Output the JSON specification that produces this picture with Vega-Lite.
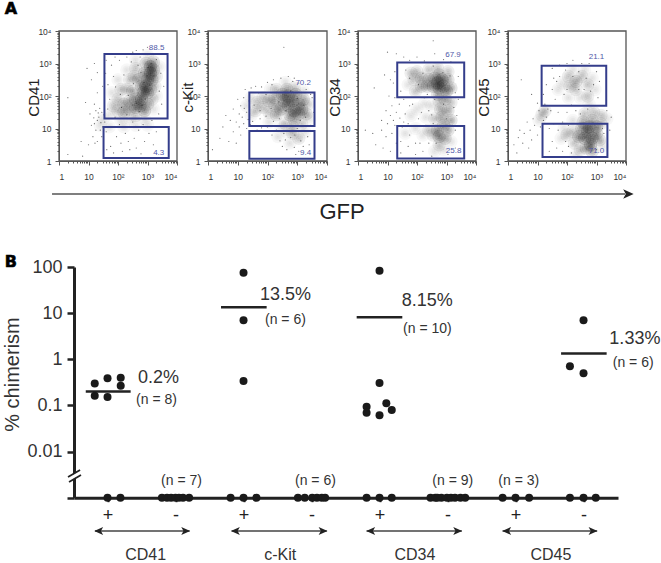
{"$schema":"https://vega.github.io/schema/vega-lite/v6.json","width":661,"height":563,"autosize":"none","padding":0,"background":"white","config":{"view":{"stroke":null},"font":"Liberation Sans","axis":{"grid":false,"labelFont":"Liberation Sans","titleFont":"Liberation Sans"}},"resolve":{"scale":{"x":"independent","y":"independent"},"axis":{"x":"independent","y":"independent"}},
"datasets":{
"density1":[{"x":3.1,"y":2.9,"d":5},{"x":3.1,"y":2.7,"d":5},{"x":3.0,"y":2.5,"d":5},{"x":2.95,"y":2.3,"d":5},{"x":2.85,"y":2.1,"d":5},{"x":2.8,"y":1.9,"d":5},{"x":2.75,"y":1.7,"d":5},{"x":2.9,"y":2.7,"d":4},{"x":3.2,"y":2.8,"d":4},{"x":3.15,"y":2.5,"d":4},{"x":2.8,"y":2.3,"d":4},{"x":3.0,"y":2.1,"d":4},{"x":2.6,"y":1.9,"d":4},{"x":2.6,"y":1.65,"d":4},{"x":2.9,"y":1.55,"d":4},{"x":3.2,"y":3.05,"d":3},{"x":2.95,"y":3.0,"d":3},{"x":2.7,"y":2.5,"d":3},{"x":2.5,"y":2.15,"d":3},{"x":2.4,"y":1.85,"d":3},{"x":2.4,"y":1.6,"d":3},{"x":2.2,"y":1.75,"d":3},{"x":2.2,"y":1.5,"d":3},{"x":3.0,"y":1.75,"d":3},{"x":3.1,"y":2.2,"d":3},{"x":2.55,"y":2.6,"d":2},{"x":2.3,"y":2.2,"d":2},{"x":2.0,"y":1.9,"d":2},{"x":2.0,"y":1.55,"d":2},{"x":1.85,"y":1.7,"d":2},{"x":2.6,"y":1.4,"d":2},{"x":3.25,"y":2.3,"d":2},{"x":3.15,"y":1.9,"d":2},{"x":2.6,"y":2.85,"d":2},{"x":2.4,"y":2.5,"d":2},{"x":2.1,"y":2.2,"d":2},{"x":3.3,"y":2.6,"d":2},{"x":1.8,"y":2.1,"d":1},{"x":1.75,"y":1.45,"d":1},{"x":2.0,"y":2.5,"d":1},{"x":2.3,"y":2.8,"d":1},{"x":2.6,"y":3.1,"d":1},{"x":3.0,"y":3.25,"d":1},{"x":3.4,"y":2.9,"d":1},{"x":3.3,"y":2.0,"d":1},{"x":3.2,"y":1.6,"d":1},{"x":2.9,"y":1.3,"d":1},{"x":2.4,"y":1.3,"d":1},{"x":2.1,"y":1.25,"d":1},{"x":1.5,"y":1.3,"d":1},{"x":1.4,"y":1.1,"d":1},{"x":1.7,"y":1.05,"d":1},{"x":2.2,"y":1.05,"d":1},{"x":2.6,"y":1.1,"d":1},{"x":3.0,"y":1.1,"d":1}],
"events1":[{"x":0.3,"y":0.2},{"x":0.8,"y":0.15},{"x":0.75,"y":0.6},{"x":1.0,"y":0.5},{"x":1.15,"y":0.75},{"x":1.3,"y":0.6},{"x":1.25,"y":0.95},{"x":1.1,"y":1.1},{"x":1.3,"y":1.25},{"x":1.05,"y":1.45},{"x":0.9,"y":1.8},{"x":1.2,"y":1.75},{"x":0.3,"y":1.95},{"x":1.3,"y":2.1},{"x":1.1,"y":2.5},{"x":0.95,"y":2.85},{"x":1.2,"y":3.0},{"x":1.6,"y":3.1},{"x":1.25,"y":1.55},{"x":1.45,"y":1.5},{"x":1.4,"y":0.95},{"x":1.45,"y":0.75},{"x":1.55,"y":1.2},{"x":1.6,"y":0.9},{"x":1.35,"y":1.35},{"x":1.2,"y":1.15},{"x":1.38,"y":1.62},{"x":1.48,"y":2.3},{"x":1.3,"y":2.72},{"x":1.75,"y":0.45},{"x":1.95,"y":0.75},{"x":2.1,"y":0.55},{"x":2.25,"y":0.85},{"x":2.4,"y":0.35},{"x":2.55,"y":0.7},{"x":2.7,"y":0.95},{"x":2.9,"y":0.6},{"x":3.05,"y":0.85},{"x":1.65,"y":1.6},{"x":1.72,"y":1.9},{"x":1.66,"y":2.35},{"x":1.85,"y":2.6},{"x":1.78,"y":2.95},{"x":2.05,"y":3.1},{"x":2.2,"y":2.65},{"x":2.15,"y":3.3},{"x":2.45,"y":3.05},{"x":2.5,"y":3.35},{"x":2.75,"y":3.2},{"x":2.85,"y":3.42},{"x":3.15,"y":3.3},{"x":3.3,"y":3.12},{"x":3.45,"y":2.7},{"x":3.55,"y":2.3},{"x":3.4,"y":2.15},{"x":3.48,"y":1.75},{"x":3.38,"y":1.45},{"x":3.15,"y":1.25},{"x":2.85,"y":1.12},{"x":2.5,"y":1.2},{"x":2.05,"y":1.12},{"x":1.9,"y":1.35},{"x":2.3,"y":1.42},{"x":2.12,"y":1.65},{"x":2.48,"y":1.72},{"x":2.72,"y":1.52},{"x":2.92,"y":1.9},{"x":2.68,"y":2.1},{"x":2.35,"y":2.02},{"x":2.08,"y":2.05},{"x":1.92,"y":2.28},{"x":2.52,"y":2.38},{"x":2.78,"y":2.72},{"x":3.02,"y":2.88},{"x":3.22,"y":2.62},{"x":2.88,"y":2.42},{"x":3.08,"y":2.34},{"x":2.82,"y":1.72},{"x":2.62,"y":1.78},{"x":3.12,"y":3.0},{"x":2.98,"y":2.62},{"x":2.68,"y":2.95},{"x":1.42,"y":1.18},{"x":1.52,"y":1.42},{"x":1.18,"y":1.33},{"x":1.33,"y":1.48},{"x":1.48,"y":1.05},{"x":1.22,"y":0.55},{"x":1.62,"y":0.35},{"x":1.85,"y":0.25},{"x":2.15,"y":0.3},{"x":2.35,"y":0.6},{"x":2.62,"y":0.4},{"x":2.78,"y":0.22},{"x":3.2,"y":0.5},{"x":3.3,"y":0.9},{"x":1.58,"y":2.7},{"x":1.9,"y":3.2},{"x":2.3,"y":3.2},{"x":2.62,"y":3.4},{"x":3.0,"y":3.5}],
"density2":[{"x":2.7,"y":2.0,"d":5},{"x":2.85,"y":1.85,"d":5},{"x":2.7,"y":1.7,"d":5},{"x":2.9,"y":1.55,"d":5},{"x":2.55,"y":1.85,"d":5},{"x":2.95,"y":2.05,"d":4},{"x":3.05,"y":1.75,"d":4},{"x":3.05,"y":1.45,"d":4},{"x":2.75,"y":1.42,"d":4},{"x":2.5,"y":2.05,"d":4},{"x":2.45,"y":1.6,"d":4},{"x":3.15,"y":1.6,"d":4},{"x":2.25,"y":1.95,"d":3},{"x":2.25,"y":1.7,"d":3},{"x":2.3,"y":1.42,"d":3},{"x":2.05,"y":1.85,"d":3},{"x":2.65,"y":2.2,"d":3},{"x":3.2,"y":1.9,"d":3},{"x":3.3,"y":1.45,"d":3},{"x":2.9,"y":1.28,"d":3},{"x":1.85,"y":1.95,"d":2},{"x":1.85,"y":1.65,"d":2},{"x":2.05,"y":1.5,"d":2},{"x":1.65,"y":1.8,"d":2},{"x":1.6,"y":1.55,"d":2},{"x":2.3,"y":2.2,"d":2},{"x":2.9,"y":2.25,"d":2},{"x":3.35,"y":1.75,"d":2},{"x":2.6,"y":1.15,"d":2},{"x":3.15,"y":1.15,"d":2},{"x":2.85,"y":1.05,"d":2},{"x":2.85,"y":0.85,"d":2},{"x":3.05,"y":0.7,"d":2},{"x":2.65,"y":0.9,"d":1},{"x":2.45,"y":1.05,"d":1},{"x":3.25,"y":0.9,"d":1},{"x":2.35,"y":0.75,"d":1},{"x":2.75,"y":0.55,"d":1},{"x":1.45,"y":1.95,"d":1},{"x":1.3,"y":1.7,"d":1},{"x":1.45,"y":1.4,"d":1},{"x":2.1,"y":2.2,"d":1},{"x":2.6,"y":2.42,"d":1},{"x":3.2,"y":2.15,"d":1},{"x":3.4,"y":1.3,"d":1},{"x":2.05,"y":1.2,"d":1}],
"events2":[{"x":0.15,"y":0.35},{"x":0.4,"y":0.7},{"x":0.5,"y":1.05},{"x":0.7,"y":0.6},{"x":0.85,"y":0.9},{"x":0.95,"y":0.55},{"x":1.1,"y":0.8},{"x":0.6,"y":1.4},{"x":0.75,"y":1.25},{"x":0.95,"y":1.2},{"x":1.05,"y":1.45},{"x":1.2,"y":1.15},{"x":1.3,"y":1.0},{"x":0.85,"y":1.6},{"x":1.1,"y":1.7},{"x":1.2,"y":1.95},{"x":1.3,"y":1.5},{"x":1.0,"y":1.9},{"x":1.25,"y":2.2},{"x":1.45,"y":2.25},{"x":1.6,"y":2.3},{"x":1.8,"y":2.28},{"x":2.0,"y":2.42},{"x":2.2,"y":2.5},{"x":2.45,"y":2.55},{"x":2.7,"y":2.6},{"x":2.85,"y":2.45},{"x":2.55,"y":3.5},{"x":3.05,"y":2.4},{"x":3.3,"y":2.2},{"x":3.5,"y":1.95},{"x":3.55,"y":1.5},{"x":3.45,"y":1.1},{"x":3.35,"y":0.75},{"x":3.2,"y":0.45},{"x":3.05,"y":0.3},{"x":2.9,"y":0.42},{"x":2.6,"y":0.65},{"x":2.5,"y":0.45},{"x":2.3,"y":0.95},{"x":2.15,"y":0.8},{"x":2.0,"y":1.05},{"x":1.8,"y":1.02},{"x":1.65,"y":0.95},{"x":1.5,"y":1.22},{"x":1.75,"y":1.3},{"x":1.95,"y":1.38},{"x":2.2,"y":1.22},{"x":2.4,"y":1.3},{"x":2.12,"y":1.62},{"x":1.75,"y":1.55},{"x":1.55,"y":1.72},{"x":1.95,"y":2.05},{"x":2.38,"y":1.82},{"x":2.62,"y":1.55},{"x":3.0,"y":1.92},{"x":3.22,"y":1.72},{"x":2.78,"y":2.15},{"x":3.1,"y":1.25},{"x":3.28,"y":1.35},{"x":2.72,"y":1.1},{"x":3.0,"y":1.0},{"x":2.92,"y":0.8},{"x":2.78,"y":0.72},{"x":1.15,"y":1.35},{"x":1.38,"y":1.85},{"x":1.42,"y":1.12},{"x":1.22,"y":1.62},{"x":1.35,"y":1.28},{"x":1.05,"y":1.05},{"x":2.55,"y":0.85},{"x":2.42,"y":0.62},{"x":3.12,"y":0.62},{"x":3.4,"y":0.5},{"x":2.65,"y":0.35},{"x":2.95,"y":0.2},{"x":1.7,"y":2.1},{"x":2.15,"y":2.35},{"x":2.9,"y":2.55},{"x":3.45,"y":2.05}],
"density3":[{"x":2.7,"y":2.4,"d":5},{"x":2.85,"y":2.5,"d":5},{"x":2.75,"y":2.25,"d":5},{"x":2.9,"y":2.3,"d":4},{"x":2.6,"y":2.55,"d":4},{"x":2.55,"y":2.3,"d":4},{"x":3.0,"y":2.15,"d":4},{"x":2.75,"y":2.65,"d":3},{"x":2.4,"y":2.5,"d":3},{"x":2.35,"y":2.3,"d":3},{"x":2.15,"y":2.55,"d":3},{"x":2.15,"y":2.3,"d":3},{"x":3.05,"y":2.5,"d":3},{"x":1.9,"y":2.5,"d":2},{"x":1.8,"y":2.7,"d":2},{"x":2.0,"y":2.75,"d":2},{"x":1.7,"y":2.35,"d":1},{"x":2.4,"y":2.8,"d":2},{"x":2.7,"y":2.85,"d":2},{"x":3.05,"y":2.75,"d":2},{"x":1.95,"y":2.15,"d":2},{"x":3.15,"y":2.25,"d":3},{"x":2.7,"y":2.05,"d":3},{"x":2.75,"y":1.85,"d":2},{"x":2.95,"y":1.9,"d":3},{"x":3.15,"y":1.8,"d":2},{"x":2.8,"y":1.6,"d":3},{"x":3.05,"y":1.55,"d":3},{"x":3.15,"y":1.25,"d":3},{"x":2.85,"y":1.35,"d":3},{"x":2.5,"y":1.7,"d":1},{"x":2.25,"y":1.75,"d":1},{"x":2.0,"y":1.6,"d":1},{"x":1.8,"y":1.4,"d":1},{"x":2.3,"y":1.35,"d":1},{"x":2.6,"y":1.3,"d":2},{"x":2.7,"y":0.95,"d":4},{"x":2.75,"y":0.75,"d":4},{"x":2.9,"y":1.1,"d":3},{"x":3.05,"y":0.95,"d":3},{"x":2.95,"y":0.7,"d":3},{"x":2.55,"y":0.8,"d":2},{"x":2.4,"y":0.95,"d":2},{"x":2.2,"y":0.8,"d":1},{"x":2.75,"y":0.5,"d":2},{"x":2.6,"y":0.3,"d":1},{"x":2.9,"y":0.35,"d":1},{"x":3.15,"y":0.6,"d":1},{"x":1.95,"y":1.0,"d":1},{"x":1.6,"y":0.85,"d":1}],
"events3":[{"x":0.25,"y":0.95},{"x":0.5,"y":0.85},{"x":0.6,"y":0.5},{"x":0.8,"y":0.95},{"x":0.85,"y":0.4},{"x":0.95,"y":0.75},{"x":1.0,"y":1.15},{"x":1.1,"y":0.3},{"x":1.15,"y":0.85},{"x":0.8,"y":1.25},{"x":1.1,"y":1.4},{"x":1.25,"y":1.1},{"x":1.3,"y":0.55},{"x":1.3,"y":1.5},{"x":1.15,"y":1.7},{"x":0.95,"y":1.55},{"x":1.4,"y":1.75},{"x":1.25,"y":1.95},{"x":1.05,"y":2.0},{"x":0.55,"y":2.25},{"x":0.9,"y":2.65},{"x":1.1,"y":2.5},{"x":1.2,"y":2.4},{"x":1.25,"y":2.75},{"x":1.45,"y":2.15},{"x":1.0,"y":3.35},{"x":1.3,"y":3.3},{"x":1.55,"y":3.2},{"x":1.75,"y":3.1},{"x":2.0,"y":3.2},{"x":2.25,"y":3.08},{"x":2.6,"y":3.3},{"x":2.55,"y":3.7},{"x":2.9,"y":3.12},{"x":3.15,"y":3.05},{"x":3.4,"y":2.6},{"x":3.4,"y":1.9},{"x":3.35,"y":1.4},{"x":3.3,"y":0.95},{"x":3.3,"y":0.4},{"x":3.05,"y":0.2},{"x":2.5,"y":0.15},{"x":2.2,"y":0.3},{"x":1.95,"y":0.2},{"x":1.7,"y":0.45},{"x":1.45,"y":0.25},{"x":1.5,"y":1.05},{"x":1.75,"y":1.7},{"x":1.6,"y":1.45},{"x":1.55,"y":1.9},{"x":2.05,"y":1.3},{"x":2.1,"y":0.55},{"x":2.4,"y":0.55},{"x":2.3,"y":1.1},{"x":2.15,"y":1.5},{"x":2.4,"y":1.55},{"x":2.55,"y":1.15},{"x":2.6,"y":1.9},{"x":2.35,"y":2.05},{"x":2.05,"y":2.35},{"x":1.75,"y":2.55},{"x":1.62,"y":2.8},{"x":2.2,"y":2.7},{"x":2.55,"y":2.92},{"x":2.88,"y":2.72},{"x":3.12,"y":2.62},{"x":3.0,"y":1.3},{"x":2.9,"y":1.75},{"x":1.2,"y":1.25},{"x":1.42,"y":1.32},{"x":1.55,"y":1.2},{"x":1.7,"y":1.15},{"x":1.85,"y":1.75},{"x":1.45,"y":0.6},{"x":1.75,"y":0.8},{"x":1.95,"y":0.55},{"x":2.25,"y":1.95},{"x":2.5,"y":1.42},{"x":2.65,"y":0.55},{"x":3.2,"y":1.1},{"x":3.25,"y":1.65},{"x":3.3,"y":2.1}],
"density4":[{"x":2.7,"y":0.9,"d":5},{"x":2.85,"y":0.7,"d":5},{"x":2.6,"y":0.7,"d":5},{"x":2.75,"y":1.05,"d":5},{"x":2.8,"y":0.5,"d":5},{"x":3.0,"y":0.85,"d":4},{"x":3.0,"y":1.05,"d":4},{"x":2.5,"y":1.0,"d":4},{"x":2.4,"y":0.75,"d":4},{"x":3.1,"y":0.65,"d":3},{"x":2.55,"y":1.2,"d":3},{"x":2.85,"y":1.25,"d":3},{"x":2.65,"y":0.4,"d":3},{"x":2.85,"y":0.3,"d":3},{"x":2.2,"y":0.9,"d":2},{"x":2.25,"y":0.55,"d":2},{"x":2.0,"y":0.8,"d":2},{"x":2.45,"y":0.35,"d":2},{"x":3.15,"y":1.15,"d":2},{"x":3.2,"y":0.45,"d":1},{"x":1.8,"y":0.7,"d":1},{"x":1.9,"y":1.0,"d":1},{"x":2.2,"y":1.25,"d":1},{"x":2.6,"y":1.45,"d":2},{"x":2.9,"y":1.5,"d":2},{"x":3.15,"y":1.4,"d":2},{"x":3.35,"y":1.3,"d":1},{"x":2.3,"y":0.2,"d":1},{"x":2.75,"y":1.75,"d":1},{"x":2.7,"y":2.0,"d":2},{"x":2.3,"y":2.45,"d":3},{"x":2.1,"y":2.3,"d":2},{"x":2.5,"y":2.6,"d":2},{"x":2.3,"y":2.2,"d":2},{"x":2.05,"y":2.6,"d":2},{"x":2.7,"y":2.35,"d":2},{"x":1.85,"y":2.4,"d":1},{"x":1.7,"y":2.2,"d":1},{"x":2.2,"y":2.8,"d":1},{"x":2.6,"y":2.8,"d":1},{"x":2.85,"y":2.55,"d":1},{"x":2.95,"y":2.2,"d":1},{"x":2.45,"y":1.95,"d":1},{"x":2.05,"y":1.95,"d":1},{"x":1.15,"y":1.42,"d":2},{"x":1.25,"y":1.55,"d":2},{"x":1.05,"y":1.25,"d":1}],
"events4":[{"x":0.2,"y":0.5},{"x":0.3,"y":0.25},{"x":0.35,"y":0.72},{"x":0.5,"y":0.55},{"x":0.55,"y":0.85},{"x":0.7,"y":0.4},{"x":0.4,"y":0.95},{"x":0.75,"y":0.95},{"x":0.8,"y":0.65},{"x":0.9,"y":1.1},{"x":0.65,"y":1.2},{"x":0.85,"y":1.3},{"x":1.0,"y":0.8},{"x":1.1,"y":1.05},{"x":1.05,"y":1.55},{"x":1.2,"y":1.25},{"x":1.3,"y":1.35},{"x":1.0,"y":1.78},{"x":0.8,"y":2.05},{"x":1.25,"y":1.75},{"x":1.35,"y":1.6},{"x":1.2,"y":2.05},{"x":0.45,"y":2.5},{"x":1.3,"y":2.35},{"x":1.5,"y":2.85},{"x":1.75,"y":2.95},{"x":2.0,"y":3.0},{"x":2.2,"y":3.1},{"x":2.5,"y":3.0},{"x":2.75,"y":3.0},{"x":3.0,"y":2.75},{"x":3.1,"y":2.45},{"x":3.05,"y":1.95},{"x":1.55,"y":2.55},{"x":1.6,"y":1.9},{"x":1.45,"y":1.55},{"x":1.7,"y":1.5},{"x":2.0,"y":1.5},{"x":2.3,"y":1.55},{"x":3.35,"y":1.55},{"x":3.5,"y":1.35},{"x":3.45,"y":0.95},{"x":3.25,"y":0.85},{"x":1.4,"y":1.0},{"x":1.5,"y":0.6},{"x":1.65,"y":0.4},{"x":1.85,"y":0.3},{"x":2.05,"y":0.45},{"x":1.7,"y":0.95},{"x":1.4,"y":0.3},{"x":1.9,"y":2.05},{"x":1.75,"y":2.6},{"x":2.0,"y":2.2},{"x":2.2,"y":2.6},{"x":2.4,"y":2.2},{"x":2.58,"y":2.2},{"x":2.8,"y":2.15},{"x":2.4,"y":2.75},{"x":2.65,"y":2.55},{"x":2.9,"y":2.35},{"x":1.55,"y":1.15},{"x":1.85,"y":1.2},{"x":2.05,"y":1.1},{"x":1.95,"y":0.6},{"x":2.15,"y":0.25},{"x":3.0,"y":0.35},{"x":3.2,"y":1.0},{"x":2.45,"y":1.45},{"x":2.15,"y":1.72},{"x":2.7,"y":1.6},{"x":1.5,"y":2.2},{"x":1.65,"y":2.45},{"x":1.95,"y":2.8}]
},
"layer":[
{"encoding":{"x":{"field":"x","type":"quantitative","scale":{"domain":[0,4],"range":[59,177],"nice":false,"zero":false},"axis":{"orient":"bottom","offset":-402,"title":null,"values":[0,0.3,0.48,0.6,0.7,0.78,0.85,0.9,0.95,1,1.3,1.48,1.6,1.7,1.78,1.85,1.9,1.95,2,2.3,2.48,2.6,2.7,2.78,2.85,2.9,2.95,3,3.3,3.48,3.6,3.7,3.78,3.85,3.9,3.95,4],"labelExpr":"datum.value==0?'1':datum.value==1?'10':datum.value==2?'10²':datum.value==3?'10³':datum.value==4?'10⁴':''","labelOverlap":false,"labelFontSize":8.5,"labelColor":"#333","labelPadding":7,"domainColor":"#555","tickColor":"#555","tickSize":{"condition":{"test":"datum.value%1==0","value":4},"value":2}}},"y":{"field":"y","type":"quantitative","scale":{"domain":[0,4],"range":[161,31],"nice":false,"zero":false},"axis":{"orient":"left","offset":-59,"title":"CD41","titleX":-18,"titleY":97,"titleFontSize":15,"titleFontWeight":"normal","titleColor":"#222","values":[0,0.3,0.48,0.6,0.7,0.78,0.85,0.9,0.95,1,1.3,1.48,1.6,1.7,1.78,1.85,1.9,1.95,2,2.3,2.48,2.6,2.7,2.78,2.85,2.9,2.95,3,3.3,3.48,3.6,3.7,3.78,3.85,3.9,3.95,4],"labelExpr":"datum.value==0?'1':datum.value==1?'10':datum.value==2?'10²':datum.value==3?'10³':datum.value==4?'10⁴':''","labelOverlap":false,"labelFontSize":8.5,"labelColor":"#333","labelPadding":4,"domainColor":"#555","tickColor":"#555","tickSize":{"condition":{"test":"datum.value%1==0","value":4},"value":2}}}},
"layer":[
{"data":{"name":"density1"},"mark":{"type":"circle","size":180,"color":"#000"},"encoding":{"opacity":{"field":"d","type":"quantitative","scale":{"domain":[1,5],"range":[0.03,0.17]},"legend":null}}},
{"data":{"name":"density1"},"mark":{"type":"circle","size":80,"color":"#000"},"encoding":{"opacity":{"field":"d","type":"quantitative","scale":{"domain":[1,5],"range":[0.04,0.22]},"legend":null}}},
{"data":{"name":"density1"},"mark":{"type":"circle","size":30,"color":"#000"},"encoding":{"opacity":{"field":"d","type":"quantitative","scale":{"domain":[1,5],"range":[0.04,0.28]},"legend":null}}},
{"data":{"name":"density1"},"mark":{"type":"circle","size":3,"color":"#000"},"encoding":{"opacity":{"field":"d","type":"quantitative","scale":{"domain":[1,5],"range":[0.3,0.9]},"legend":null}}},
{"data":{"name":"events1"},"mark":{"type":"circle","size":1.5,"color":"#111","opacity":0.6}},
{"data":{"values":[{"x":0,"x2":4,"y":0,"y2":4}]},"mark":{"type":"rect","fill":null,"stroke":"#555","strokeWidth":1.3},"encoding":{"x2":{"field":"x2"},"y2":{"field":"y2"}}},
{"data":{"values":[{"x":1.54,"x2":3.68,"y":1.31,"y2":3.29},{"x":1.51,"x2":3.72,"y":0.09,"y2":1.05}]},"mark":{"type":"rect","fill":null,"stroke":"#343d8b","strokeWidth":2},"encoding":{"x2":{"field":"x2"},"y2":{"field":"y2"}}},
{"data":{"values":[{"x":3.31,"y":3.49,"t":"88.5"},{"x":3.38,"y":0.26,"t":"4.3"}]},"mark":{"type":"text","fontSize":8,"color":"#4f58a8"},"encoding":{"text":{"field":"t"}}}
]},
{"encoding":{"x":{"field":"x","type":"quantitative","scale":{"domain":[0,4],"range":[208,327],"nice":false,"zero":false},"axis":{"orient":"bottom","offset":-402,"title":null,"values":[0,0.3,0.48,0.6,0.7,0.78,0.85,0.9,0.95,1,1.3,1.48,1.6,1.7,1.78,1.85,1.9,1.95,2,2.3,2.48,2.6,2.7,2.78,2.85,2.9,2.95,3,3.3,3.48,3.6,3.7,3.78,3.85,3.9,3.95,4],"labelExpr":"datum.value==0?'1':datum.value==1?'10':datum.value==2?'10²':datum.value==3?'10³':datum.value==4?'10⁴':''","labelOverlap":false,"labelFontSize":8.5,"labelColor":"#333","labelPadding":7,"domainColor":"#555","tickColor":"#555","tickSize":{"condition":{"test":"datum.value%1==0","value":4},"value":2}}},"y":{"field":"y","type":"quantitative","scale":{"domain":[0,4],"range":[161,31],"nice":false,"zero":false},"axis":{"orient":"left","offset":-208,"title":"c-Kit","titleX":-13,"titleY":97,"titleFontSize":15,"titleFontWeight":"normal","titleColor":"#222","values":[0,0.3,0.48,0.6,0.7,0.78,0.85,0.9,0.95,1,1.3,1.48,1.6,1.7,1.78,1.85,1.9,1.95,2,2.3,2.48,2.6,2.7,2.78,2.85,2.9,2.95,3,3.3,3.48,3.6,3.7,3.78,3.85,3.9,3.95,4],"labelExpr":"datum.value==0?'1':datum.value==1?'10':datum.value==2?'10²':datum.value==3?'10³':datum.value==4?'10⁴':''","labelOverlap":false,"labelFontSize":8.5,"labelColor":"#333","labelPadding":4,"domainColor":"#555","tickColor":"#555","tickSize":{"condition":{"test":"datum.value%1==0","value":4},"value":2}}}},
"layer":[
{"data":{"name":"density2"},"mark":{"type":"circle","size":180,"color":"#000"},"encoding":{"opacity":{"field":"d","type":"quantitative","scale":{"domain":[1,5],"range":[0.03,0.17]},"legend":null}}},
{"data":{"name":"density2"},"mark":{"type":"circle","size":80,"color":"#000"},"encoding":{"opacity":{"field":"d","type":"quantitative","scale":{"domain":[1,5],"range":[0.04,0.22]},"legend":null}}},
{"data":{"name":"density2"},"mark":{"type":"circle","size":30,"color":"#000"},"encoding":{"opacity":{"field":"d","type":"quantitative","scale":{"domain":[1,5],"range":[0.04,0.28]},"legend":null}}},
{"data":{"name":"density2"},"mark":{"type":"circle","size":3,"color":"#000"},"encoding":{"opacity":{"field":"d","type":"quantitative","scale":{"domain":[1,5],"range":[0.3,0.9]},"legend":null}}},
{"data":{"name":"events2"},"mark":{"type":"circle","size":1.5,"color":"#111","opacity":0.6}},
{"data":{"values":[{"x":0,"x2":4,"y":0,"y2":4}]},"mark":{"type":"rect","fill":null,"stroke":"#555","strokeWidth":1.3},"encoding":{"x2":{"field":"x2"},"y2":{"field":"y2"}}},
{"data":{"values":[{"x":1.39,"x2":3.58,"y":1.08,"y2":2.11},{"x":1.39,"x2":3.58,"y":0.07,"y2":0.92}]},"mark":{"type":"rect","fill":null,"stroke":"#343d8b","strokeWidth":2},"encoding":{"x2":{"field":"x2"},"y2":{"field":"y2"}}},
{"data":{"values":[{"x":3.2,"y":2.39,"t":"70.2"},{"x":3.28,"y":0.26,"t":"9.4"}]},"mark":{"type":"text","fontSize":8,"color":"#4f58a8"},"encoding":{"text":{"field":"t"}}}
]},
{"encoding":{"x":{"field":"x","type":"quantitative","scale":{"domain":[0,4],"range":[358,476],"nice":false,"zero":false},"axis":{"orient":"bottom","offset":-402,"title":null,"values":[0,0.3,0.48,0.6,0.7,0.78,0.85,0.9,0.95,1,1.3,1.48,1.6,1.7,1.78,1.85,1.9,1.95,2,2.3,2.48,2.6,2.7,2.78,2.85,2.9,2.95,3,3.3,3.48,3.6,3.7,3.78,3.85,3.9,3.95,4],"labelExpr":"datum.value==0?'1':datum.value==1?'10':datum.value==2?'10²':datum.value==3?'10³':datum.value==4?'10⁴':''","labelOverlap":false,"labelFontSize":8.5,"labelColor":"#333","labelPadding":7,"domainColor":"#555","tickColor":"#555","tickSize":{"condition":{"test":"datum.value%1==0","value":4},"value":2}}},"y":{"field":"y","type":"quantitative","scale":{"domain":[0,4],"range":[161,31],"nice":false,"zero":false},"axis":{"orient":"left","offset":-358,"title":"CD34","titleX":-16,"titleY":97,"titleFontSize":15,"titleFontWeight":"normal","titleColor":"#222","values":[0,0.3,0.48,0.6,0.7,0.78,0.85,0.9,0.95,1,1.3,1.48,1.6,1.7,1.78,1.85,1.9,1.95,2,2.3,2.48,2.6,2.7,2.78,2.85,2.9,2.95,3,3.3,3.48,3.6,3.7,3.78,3.85,3.9,3.95,4],"labelExpr":"datum.value==0?'1':datum.value==1?'10':datum.value==2?'10²':datum.value==3?'10³':datum.value==4?'10⁴':''","labelOverlap":false,"labelFontSize":8.5,"labelColor":"#333","labelPadding":4,"domainColor":"#555","tickColor":"#555","tickSize":{"condition":{"test":"datum.value%1==0","value":4},"value":2}}}},
"layer":[
{"data":{"name":"density3"},"mark":{"type":"circle","size":180,"color":"#000"},"encoding":{"opacity":{"field":"d","type":"quantitative","scale":{"domain":[1,5],"range":[0.03,0.17]},"legend":null}}},
{"data":{"name":"density3"},"mark":{"type":"circle","size":80,"color":"#000"},"encoding":{"opacity":{"field":"d","type":"quantitative","scale":{"domain":[1,5],"range":[0.04,0.22]},"legend":null}}},
{"data":{"name":"density3"},"mark":{"type":"circle","size":30,"color":"#000"},"encoding":{"opacity":{"field":"d","type":"quantitative","scale":{"domain":[1,5],"range":[0.04,0.28]},"legend":null}}},
{"data":{"name":"density3"},"mark":{"type":"circle","size":3,"color":"#000"},"encoding":{"opacity":{"field":"d","type":"quantitative","scale":{"domain":[1,5],"range":[0.3,0.9]},"legend":null}}},
{"data":{"name":"events3"},"mark":{"type":"circle","size":1.5,"color":"#111","opacity":0.6}},
{"data":{"values":[{"x":0,"x2":4,"y":0,"y2":4}]},"mark":{"type":"rect","fill":null,"stroke":"#555","strokeWidth":1.3},"encoding":{"x2":{"field":"x2"},"y2":{"field":"y2"}}},
{"data":{"values":[{"x":1.33,"x2":3.6,"y":1.96,"y2":3.03},{"x":1.33,"x2":3.6,"y":0.08,"y2":1.08}]},"mark":{"type":"rect","fill":null,"stroke":"#343d8b","strokeWidth":2},"encoding":{"x2":{"field":"x2"},"y2":{"field":"y2"}}},
{"data":{"values":[{"x":3.22,"y":3.25,"t":"67.9"},{"x":3.24,"y":0.31,"t":"25.8"}]},"mark":{"type":"text","fontSize":8,"color":"#4f58a8"},"encoding":{"text":{"field":"t"}}}
]},
{"encoding":{"x":{"field":"x","type":"quantitative","scale":{"domain":[0,4],"range":[508,626],"nice":false,"zero":false},"axis":{"orient":"bottom","offset":-402,"title":null,"values":[0,0.3,0.48,0.6,0.7,0.78,0.85,0.9,0.95,1,1.3,1.48,1.6,1.7,1.78,1.85,1.9,1.95,2,2.3,2.48,2.6,2.7,2.78,2.85,2.9,2.95,3,3.3,3.48,3.6,3.7,3.78,3.85,3.9,3.95,4],"labelExpr":"datum.value==0?'1':datum.value==1?'10':datum.value==2?'10²':datum.value==3?'10³':datum.value==4?'10⁴':''","labelOverlap":false,"labelFontSize":8.5,"labelColor":"#333","labelPadding":7,"domainColor":"#555","tickColor":"#555","tickSize":{"condition":{"test":"datum.value%1==0","value":4},"value":2}}},"y":{"field":"y","type":"quantitative","scale":{"domain":[0,4],"range":[161,31],"nice":false,"zero":false},"axis":{"orient":"left","offset":-508,"title":"CD45","titleX":-17,"titleY":97,"titleFontSize":15,"titleFontWeight":"normal","titleColor":"#222","values":[0,0.3,0.48,0.6,0.7,0.78,0.85,0.9,0.95,1,1.3,1.48,1.6,1.7,1.78,1.85,1.9,1.95,2,2.3,2.48,2.6,2.7,2.78,2.85,2.9,2.95,3,3.3,3.48,3.6,3.7,3.78,3.85,3.9,3.95,4],"labelExpr":"datum.value==0?'1':datum.value==1?'10':datum.value==2?'10²':datum.value==3?'10³':datum.value==4?'10⁴':''","labelOverlap":false,"labelFontSize":8.5,"labelColor":"#333","labelPadding":4,"domainColor":"#555","tickColor":"#555","tickSize":{"condition":{"test":"datum.value%1==0","value":4},"value":2}}}},
"layer":[
{"data":{"name":"density4"},"mark":{"type":"circle","size":180,"color":"#000"},"encoding":{"opacity":{"field":"d","type":"quantitative","scale":{"domain":[1,5],"range":[0.03,0.17]},"legend":null}}},
{"data":{"name":"density4"},"mark":{"type":"circle","size":80,"color":"#000"},"encoding":{"opacity":{"field":"d","type":"quantitative","scale":{"domain":[1,5],"range":[0.04,0.22]},"legend":null}}},
{"data":{"name":"density4"},"mark":{"type":"circle","size":30,"color":"#000"},"encoding":{"opacity":{"field":"d","type":"quantitative","scale":{"domain":[1,5],"range":[0.04,0.28]},"legend":null}}},
{"data":{"name":"density4"},"mark":{"type":"circle","size":3,"color":"#000"},"encoding":{"opacity":{"field":"d","type":"quantitative","scale":{"domain":[1,5],"range":[0.3,0.9]},"legend":null}}},
{"data":{"name":"events4"},"mark":{"type":"circle","size":1.5,"color":"#111","opacity":0.6}},
{"data":{"values":[{"x":0,"x2":4,"y":0,"y2":4}]},"mark":{"type":"rect","fill":null,"stroke":"#555","strokeWidth":1.3},"encoding":{"x2":{"field":"x2"},"y2":{"field":"y2"}}},
{"data":{"values":[{"x":1.14,"x2":3.33,"y":1.7,"y2":2.93},{"x":1.17,"x2":3.37,"y":0.12,"y2":1.15}]},"mark":{"type":"rect","fill":null,"stroke":"#343d8b","strokeWidth":2},"encoding":{"x2":{"field":"x2"},"y2":{"field":"y2"}}},
{"data":{"values":[{"x":3.0,"y":3.19,"t":"21.1"},{"x":3.0,"y":0.32,"t":"71.0"}]},"mark":{"type":"text","fontSize":8,"color":"#4f58a8"},"encoding":{"text":{"field":"t"}}}
]},
{"encoding":{"x":{"field":"pos","type":"quantitative","scale":{"domain":[-0.493,7.507],"range":[74,618],"nice":false,"zero":false},"axis":{"orient":"bottom","offset":-65.3,"title":null,"values":[0,1,2,3,4,5,6,7],"labelExpr":"datum.value%2==0?'+':'-'","labelFontSize":18,"labelColor":"#222","labelPadding":5,"domainColor":"#222","domainWidth":3,"tickColor":"#222","tickWidth":2,"tickSize":4}},"y":{"field":"val","type":"quantitative","scale":{"type":"log","domain":[0.001,100],"range":[497.7,267],"nice":false,"zero":false},"axis":{"orient":"left","offset":-74,"title":"% chimerism","titleX":-52,"titleY":374,"titleFontSize":20,"titleFontWeight":"normal","titleColor":"#333","values":[0.001,0.01,0.1,1,10,100],"labelExpr":"datum.value==0.001?'':datum.value==0.01?'0.01':datum.value==0.1?'0.1':datum.value==1?'1':datum.value==10?'10':'100'","labelOverlap":false,"labelFontSize":18,"labelColor":"#333","labelPadding":5,"domainColor":"#222","domainWidth":3,"tickColor":"#222","tickWidth":2.5,"tickSize":7}}},
"layer":[
{"data":{"values":[{"pos":-0.32,"pos2":0.34,"val":0.2},{"pos":1.669,"pos2":2.34,"val":13.5},{"pos":3.664,"pos2":4.335,"val":8.15},{"pos":6.67,"pos2":7.34,"val":1.33}]},"mark":{"type":"rule","stroke":"#222","strokeWidth":2.5},"encoding":{"x2":{"field":"pos2"}}},
{"data":{"values":[{"pos":-0.188,"val":0.3},{"pos":0,"val":0.387},{"pos":0.194,"val":0.4},{"pos":0.194,"val":0.267},{"pos":-0.188,"val":0.162},{"pos":0,"val":0.152},{"pos":0,"val":0.001},{"pos":0.19,"val":0.001},{"pos":0.8,"val":0.001},{"pos":0.875,"val":0.001},{"pos":0.934,"val":0.001},{"pos":1,"val":0.001},{"pos":1.05,"val":0.001},{"pos":1.11,"val":0.001},{"pos":1.2,"val":0.001},{"pos":2,"val":75},{"pos":2,"val":7},{"pos":2,"val":0.34},{"pos":1.81,"val":0.001},{"pos":2,"val":0.001},{"pos":2.19,"val":0.001},{"pos":2.8,"val":0.001},{"pos":2.9,"val":0.001},{"pos":3.01,"val":0.001},{"pos":3.08,"val":0.001},{"pos":3.15,"val":0.001},{"pos":3.2,"val":0.001},{"pos":4,"val":83},{"pos":4,"val":0.306},{"pos":3.81,"val":0.094},{"pos":3.81,"val":0.0695},{"pos":4.1,"val":0.111},{"pos":4.18,"val":0.0795},{"pos":4,"val":0.061},{"pos":3.81,"val":0.001},{"pos":4,"val":0.001},{"pos":4.18,"val":0.001},{"pos":4.75,"val":0.001},{"pos":4.82,"val":0.001},{"pos":4.91,"val":0.001},{"pos":4.99,"val":0.001},{"pos":5.05,"val":0.001},{"pos":5.11,"val":0.001},{"pos":5.19,"val":0.001},{"pos":5.26,"val":0.001},{"pos":4.85,"val":0.001},{"pos":5.81,"val":0.001},{"pos":6,"val":0.001},{"pos":6.2,"val":0.001},{"pos":7,"val":7},{"pos":6.8,"val":0.705},{"pos":7,"val":0.497},{"pos":6.8,"val":0.001},{"pos":7,"val":0.001},{"pos":7.18,"val":0.001}]},"mark":{"type":"circle","size":64,"color":"#1a1a1a","opacity":1}},
{"data":{"values":[{"pos":-0.574,"pos2":-0.397,"val":0.00248,"val2":0.00351}]},"mark":{"type":"rule","stroke":"white","strokeWidth":4},"encoding":{"x2":{"field":"pos2"},"y2":{"field":"val2"}}},
{"data":{"values":[{"pos":-0.581,"pos2":-0.404,"val":0.00281,"val2":0.00398},{"pos":-0.566,"pos2":-0.39,"val":0.00219,"val2":0.0031}]},"mark":{"type":"rule","stroke":"#222","strokeWidth":1.8},"encoding":{"x2":{"field":"pos2"},"y2":{"field":"val2"}}},
{"data":{"values":[{"pos":0.449,"val":0.393,"t":"0.2%"},{"pos":2.243,"val":24.7,"t":"13.5%"},{"pos":4.326,"val":18.6,"t":"8.15%"},{"pos":7.38,"val":2.75,"t":"1.33%"}]},"mark":{"type":"text","align":"left","baseline":"middle","fontSize":18,"color":"#333"},"encoding":{"text":{"field":"t"}}},
{"data":{"values":[{"pos":0.42,"val":0.131,"t":"(n = 8)"},{"pos":2.316,"val":7.1,"t":"(n = 6)"},{"pos":4.346,"val":4.53,"t":"(n = 10)"},{"pos":7.43,"val":0.843,"t":"(n = 6)"},{"pos":0.787,"val":0.00233,"t":"(n = 7)"},{"pos":2.757,"val":0.00233,"t":"(n = 6)"},{"pos":4.777,"val":0.00233,"t":"(n = 9)"},{"pos":5.747,"val":0.00233,"t":"(n = 3)"}]},"mark":{"type":"text","align":"left","baseline":"middle","fontSize":14,"color":"#333"},"encoding":{"text":{"field":"t"}}},
{"data":{"values":[{"pos":-0.184,"pos2":1.206,"val":0.00019},{"pos":1.826,"pos2":3.224,"val":0.00019},{"pos":3.81,"pos2":5.21,"val":0.00019},{"pos":5.81,"pos2":7.2,"val":0.00019}]},"mark":{"type":"rule","stroke":"#444","strokeWidth":1.5},"encoding":{"x2":{"field":"pos2"}}},
{"data":{"values":[{"pos":-0.13,"val":0.00019,"dir":"left"},{"pos":1.15,"val":0.00019,"dir":"right"},{"pos":1.88,"val":0.00019,"dir":"left"},{"pos":3.17,"val":0.00019,"dir":"right"},{"pos":3.87,"val":0.00019,"dir":"left"},{"pos":5.15,"val":0.00019,"dir":"right"},{"pos":5.87,"val":0.00019,"dir":"left"},{"pos":7.14,"val":0.00019,"dir":"right"}]},"mark":{"type":"point","filled":true,"size":80,"color":"#222","opacity":1},"encoding":{"shape":{"field":"dir","type":"nominal","scale":{"domain":["left","right"],"range":["M1,-0.9L-1,0L1,0.9L0.5,0Z","M-1,-0.9L1,0L-1,0.9L-0.5,0Z"]},"legend":null}}},
{"data":{"values":[{"pos":0.56,"val":0.000057,"t":"CD41"},{"pos":2.54,"val":0.000057,"t":"c-Kit"},{"pos":4.52,"val":0.000057,"t":"CD34"},{"pos":6.52,"val":0.000057,"t":"CD45"}]},"mark":{"type":"text","align":"center","baseline":"middle","fontSize":16,"color":"#333"},"encoding":{"text":{"field":"t"}}},
{"data":{"values":[{"pos":-0.816,"pos2":7.61,"val":3820}]},"mark":{"type":"rule","stroke":"#555","strokeWidth":1.5},"encoding":{"x2":{"field":"pos2"}}},
{"data":{"values":[{"pos":7.66,"val":3820}]},"mark":{"type":"point","filled":true,"size":110,"color":"#222","opacity":1,"shape":"M-1,-0.9L1,0L-1,0.9L-0.5,0Z"}},
{"data":{"values":[{"pos":3.448,"val":1556,"t":"GFP"}]},"mark":{"type":"text","align":"center","baseline":"middle","fontSize":22,"color":"#222"},"encoding":{"text":{"field":"t"}}},
{"data":{"values":[{"pos":-1.42,"val":39000000,"t":"A"},{"pos":-1.42,"val":128,"t":"B"}]},"mark":{"type":"text","align":"center","baseline":"middle","fontSize":16,"font":"DejaVu Sans","fontWeight":"bold","stroke":"#000","strokeWidth":0.6,"color":"#000"},"encoding":{"text":{"field":"t"}}}
]}
]}
